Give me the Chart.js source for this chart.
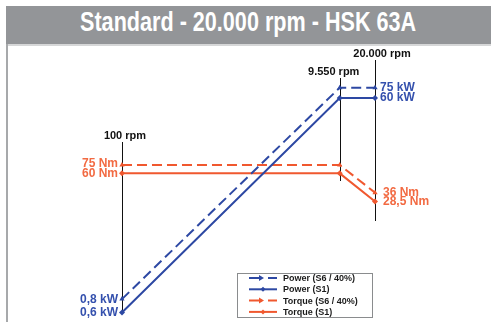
<!DOCTYPE html>
<html>
<head>
<meta charset="utf-8">
<script src="https://cdn.jsdelivr.net/npm/chart.js@4.4.0/dist/chart.umd.min.js"></script>
<style>
body{margin:0;background:#fff;width:491px;height:322px;overflow:hidden;position:relative;font-family:"Liberation Sans",Arial,sans-serif}
#head{position:absolute;left:6px;top:6px;width:485px;height:38px;background:#939598;color:#fff;text-align:center;line-height:39px;z-index:2;overflow:hidden}
#head span{display:inline-block;font:bold 27px "Liberation Sans",Arial,sans-serif;transform:scaleX(0.8);white-space:nowrap}
#rule{position:absolute;left:6px;top:44px;width:485px;height:2px;background:#d6d7d8;z-index:2}
#side{position:absolute;left:6px;top:44px;width:2px;height:278px;background:#a7a9ab;z-index:2}
#wrap{position:absolute;left:0;top:0;width:491px;height:322px}
</style>
</head>
<body>
<div id="head"><span>Standard - 20.000 rpm - HSK 63A</span></div>
<div id="rule"></div>
<div id="side"></div>
<div id="wrap"><canvas id="chart" width="491" height="322"></canvas></div>
<script>
// speeds (rpm) and their labels
const rpm = [100, 9550, 20000];
const rpmLabels = ['100 rpm', '9.550 rpm', '20.000 rpm'];

// power in kW, torque in Nm
const powerS6 = [0.8, 75, 75];
const powerS1 = [0.6, 60, 60];
const torqueS6 = [75, 75, 36];
const torqueS1 = [60, 60, 28.5];

const seriesNames = ['Power (S6 / 40%)', 'Power (S1)', 'Torque (S6 / 40%)', 'Torque (S1)'];

const blue = '#2d48a3';
const blueText = '#3450ad';
const orange = '#f0582f';
const orangeText = '#f26a42';

function pts(vals) {
    return rpm.map((r, i) => ({x: r, y: vals[i]}));
}
function fmt(v) {
    return String(v).replace('.', ',');
}

// rpm marker lines: top / bottom in px, label offset
const rpmLineTop = [142, 78, 60];
const rpmLineBottom = [313, 181, 221];
const rpmLabelDx = [3, -6, 7];

const markers = {
    id: 'markers',
    beforeDatasetsDraw(chart) {
        const c = chart.ctx;
        const x = chart.scales.x;
        c.save();
        c.strokeStyle = '#111';
        c.lineWidth = 1;
        rpm.forEach((r, i) => {
            const px = Math.round(x.getPixelForValue(r)) + 0.5;
            c.beginPath();
            c.moveTo(px, rpmLineTop[i]);
            c.lineTo(px, rpmLineBottom[i]);
            c.stroke();
        });
        c.restore();
    },
    afterDatasetsDraw(chart) {
        const c = chart.ctx;
        const x = chart.scales.x, yP = chart.scales.yP, yT = chart.scales.yT;
        c.save();
        c.font = 'bold 11px "Liberation Sans", Arial, sans-serif';
        c.fillStyle = '#111';
        c.textAlign = 'center';
        c.textBaseline = 'middle';
        rpm.forEach((r, i) => {
            c.fillText(rpmLabels[i], x.getPixelForValue(r) + rpmLabelDx[i], rpmLineTop[i] - 6);
        });

        c.font = 'bold 12px "Liberation Sans", Arial, sans-serif';
        const left = x.getPixelForValue(rpm[0]) - 4;
        const right = x.getPixelForValue(rpm[2]) + 5;
        const last = rpm.length - 1;
        // left side values
        c.textAlign = 'right';
        c.fillStyle = blueText;
        c.fillText(fmt(powerS6[0]) + ' kW', left, yP.getPixelForValue(powerS6[0]) + 1);
        c.fillText(fmt(powerS1[0]) + ' kW', left, yP.getPixelForValue(powerS1[0]));
        c.fillStyle = orangeText;
        c.fillText(fmt(torqueS6[0]) + ' Nm', left, yT.getPixelForValue(torqueS6[0]) - 1);
        c.fillText(fmt(torqueS1[0]) + ' Nm', left, yT.getPixelForValue(torqueS1[0]));
        // right side values
        c.textAlign = 'left';
        c.fillStyle = blueText;
        c.fillText(fmt(powerS6[last]) + ' kW', right, yP.getPixelForValue(powerS6[last]));
        c.fillText(fmt(powerS1[last]) + ' kW', right, yP.getPixelForValue(powerS1[last]));
        c.fillStyle = orangeText;
        c.fillText(fmt(torqueS6[last]) + ' Nm', right + 3, yT.getPixelForValue(torqueS6[last]));
        c.fillText(fmt(torqueS1[last]) + ' Nm', right + 3, yT.getPixelForValue(torqueS1[last]));
        c.restore();
    }
};

// boxed legend at the bottom
const boxLegend = {
    id: 'boxLegend',
    afterDraw(chart) {
        const c = chart.ctx;
        const bx = 237, by = 273, bw = 135, bh = 44;
        c.save();
        c.fillStyle = '#fff';
        c.fillRect(bx, by, bw, bh);
        c.strokeStyle = '#8a8c8e';
        c.lineWidth = 1;
        c.strokeRect(bx + 0.5, by + 0.5, bw, bh);
        c.font = 'bold 9px "Liberation Sans", Arial, sans-serif';
        c.textBaseline = 'middle';
        chart.data.datasets.forEach((ds, i) => {
            const y = by + 5 + i * 11.3;
            c.strokeStyle = ds.borderColor;
            c.lineWidth = 2;
            c.setLineDash(ds.borderDash && ds.borderDash.length ? [13, 6] : []);
            c.beginPath();
            c.moveTo(bx + 12, y);
            c.lineTo(bx + 40, y);
            c.stroke();
            c.setLineDash([]);
            c.fillStyle = ds.borderColor;
            c.beginPath();
            if (ds.pointStyle === 'triangle') {
                c.moveTo(bx + 27, y);
                c.lineTo(bx + 22, y - 3);
                c.lineTo(bx + 22, y + 3);
            } else {
                c.moveTo(bx + 26, y - 2.5);
                c.lineTo(bx + 28.5, y);
                c.lineTo(bx + 26, y + 2.5);
                c.lineTo(bx + 23.5, y);
            }
            c.closePath();
            c.fill();
            c.fillStyle = '#1a1a1a';
            c.fillText(ds.label, bx + 46, y + 0.5);
        });
        c.restore();
    }
};

function series(label, vals, color, dashed, axis) {
    return {
        label: label,
        data: pts(vals),
        yAxisID: axis,
        borderColor: color,
        backgroundColor: color,
        borderWidth: 2,
        borderDash: dashed ? [10, 5] : [],
        pointStyle: dashed ? 'triangle' : 'rectRot',
        pointRadius: 3,
        pointBorderWidth: 0,
        tension: 0
    };
}

new Chart(document.getElementById('chart'), {
    type: 'line',
    data: {
        datasets: [
            series(seriesNames[0], powerS6, blue, true, 'yP'),
            series(seriesNames[1], powerS1, blue, false, 'yP'),
            series(seriesNames[2], torqueS6, orange, true, 'yT'),
            series(seriesNames[3], torqueS1, orange, false, 'yT')
        ]
    },
    options: {
        responsive: false,
        animation: false,
        layout: { autoPadding: false, padding: { left: 12, right: 6, top: 42, bottom: 1 } },
        plugins: { legend: { display: false }, tooltip: { enabled: false } },
        scales: {
            x: { type: 'logarithmic', min: 10, max: 200000, display: false },
            yP: { type: 'logarithmic', min: 0.5, max: 200, display: false },
            yT: { type: 'logarithmic', min: 1.2, max: 1950, display: false }
        }
    },
    plugins: [markers, boxLegend]
});
</script>
</body>
</html>
